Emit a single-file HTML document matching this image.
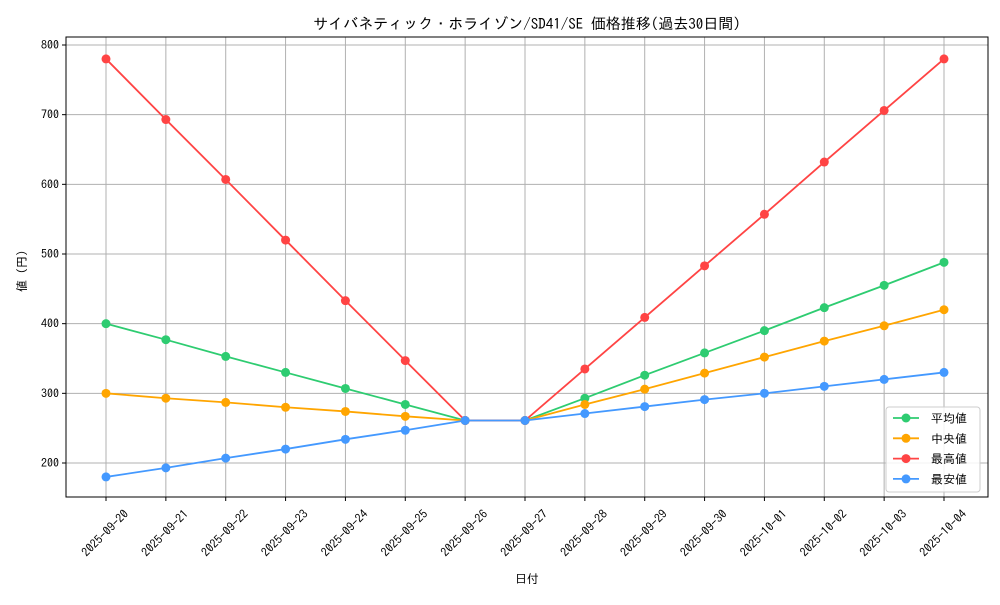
<!DOCTYPE html>
<html><head><meta charset="utf-8"><style>
body{margin:0;background:#fff}
svg text{font-family:"IPAGothic","Liberation Mono","Noto Sans CJK JP",monospace;fill:#000}
</style></head><body>
<svg id="chart" width="1000" height="600" xmlns="http://www.w3.org/2000/svg">
<rect width="1000" height="600" fill="#fff"/>
<text x="527" y="29" font-size="15" text-anchor="middle">サイバネティック・ホライゾン/SD41/SE 価格推移(過去30日間)</text>
<g id="grid"></g><g id="axes"></g><g id="series"></g>
<text x="527" y="583" font-size="12" text-anchor="middle">日付</text>
<text transform="translate(26,271) rotate(-90)" font-size="12" text-anchor="middle">値 (円)</text>
<g id="legend"></g>
</svg>
<script>
const dates=["2025-09-20","2025-09-21","2025-09-22","2025-09-23","2025-09-24","2025-09-25","2025-09-26","2025-09-27","2025-09-28","2025-09-29","2025-09-30","2025-10-01","2025-10-02","2025-10-03","2025-10-04"];
const avgVals=[400,377,353,330,307,284,261,261,293,326,358,390,423,455,488];
const medVals=[300,293,287,280,274,267,261,261,284,306,329,352,375,397,420];
const maxVals=[780,693,607,520,433,347,261,261,335,409,483,557,632,706,780];
const minVals=[180,193,207,220,234,247,261,261,271,281,291,300,310,320,330];
const yTicks=[200,300,400,500,600,700,800];
const seriesNames=["平均値","中央値","最高値","最安値"];
const NS="http://www.w3.org/2000/svg";
const L=66,R=988,T=37,B=497;
const xs=i=>106+i*(944-106)/(dates.length-1);
const ys=v=>463-(v-200)*(463-45)/600;
function mk(tag,attrs,parent){const e=document.createElementNS(NS,tag);for(const k in attrs)e.setAttribute(k,attrs[k]);parent.appendChild(e);return e;}
const grid=document.getElementById('grid'),axes=document.getElementById('axes'),ser=document.getElementById('series'),leg=document.getElementById('legend');
dates.forEach((d,i)=>{
 const g=mk('line',{x1:xs(i),x2:xs(i),y1:T,y2:B,stroke:'#b0b0b0','stroke-width':1},grid);
 
 
 mk('line',{x1:xs(i),x2:xs(i),y1:B,y2:B+4,stroke:'#000'},axes);
 const t=mk('text',{transform:`translate(${xs(i)+2},${B+39}) rotate(-45)`,'font-size':12,'text-anchor':'middle'},axes);
 t.textContent=d;
 
 
});
yTicks.forEach(v=>{
 const g=mk('line',{x1:L,x2:R,y1:ys(v),y2:ys(v),stroke:'#b0b0b0','stroke-width':1},grid);
 
 
 mk('line',{x1:L-4,x2:L,y1:ys(v),y2:ys(v),stroke:'#000'},axes);
 const t=mk('text',{x:L-7,y:ys(v)+4,'font-size':12,'text-anchor':'end'},axes);
 t.textContent=v;
 
 
});
const fr=mk('rect',{x:L,y:T,width:R-L,height:B-T,fill:'none',stroke:'#000','stroke-width':1},axes);


const all=[[avgVals,'#2ecc71','avg'],[medVals,'#ffa500','median'],[maxVals,'#ff4444','max'],[minVals,'#4499ff','min']];
all.forEach(([vals,c,n])=>{
 const pl=mk('polyline',{points:vals.map((v,i)=>xs(i)+','+ys(v)).join(' '),fill:'none',stroke:c,'stroke-width':1.8},ser);
 
 
 vals.forEach((v,i)=>{
  const p=mk('circle',{cx:xs(i),cy:ys(v),r:4.5,fill:c},ser);
  
  
 });
});
const lb=mk('rect',{x:886,y:407,width:94,height:85,fill:'#fff','fill-opacity':0.85,stroke:'#ccc',rx:3},leg);


all.forEach(([v,c,n],k)=>{
 const y=418+k*20.3;
 mk('line',{x1:893,x2:919,y1:y,y2:y,stroke:c,'stroke-width':1.8},leg);
 mk('circle',{cx:906,cy:y,r:4.5,fill:c},leg);
 const t=mk('text',{x:931,y:y+4.5,'font-size':12},leg);
 t.textContent=seriesNames[k];
 
 
});
</script>
</body></html>
